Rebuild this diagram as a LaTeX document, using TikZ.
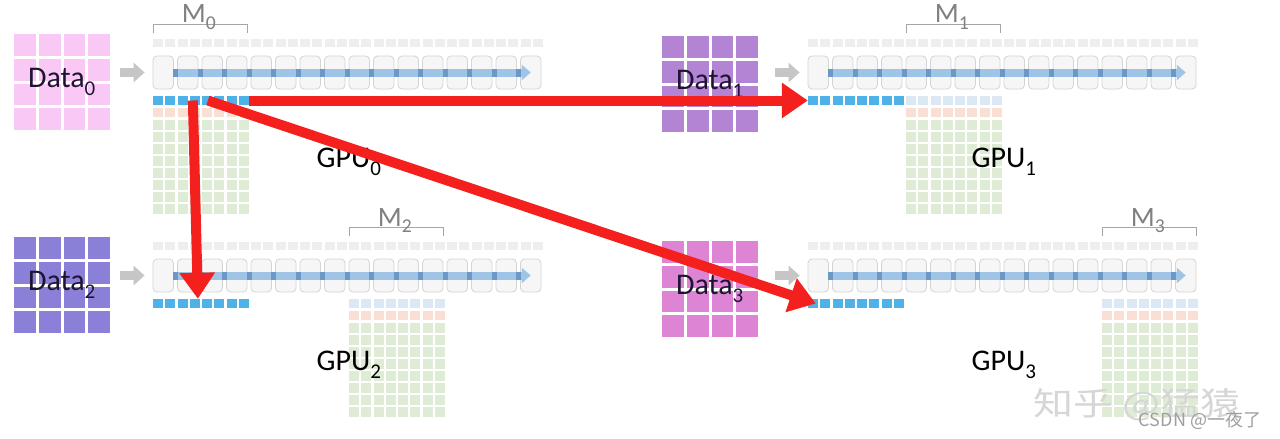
\documentclass[tikz,border=0pt]{standalone}
\usepackage{fontspec}
\setmainfont{Carlito}
\newfontfamily\cjkfont{Noto Sans CJK SC}
\usepackage{tikz}
\usetikzlibrary{arrows.meta, positioning, calc}
\definecolor{pinkdata}{RGB}{250,200,244}
\definecolor{violetdata}{RGB}{180,132,212}
\definecolor{slatedata}{RGB}{138,128,216}
\definecolor{magentadata}{RGB}{222,132,212}
\definecolor{layerfill}{RGB}{246,246,246}
\definecolor{layerdraw}{RGB}{212,212,212}
\definecolor{stripgray}{RGB}{238,238,238}
\definecolor{flowblue}{RGB}{160,196,230}
\definecolor{flowdark}{RGB}{108,152,200}
\definecolor{hotblue}{RGB}{78,178,232}
\definecolor{paleblue}{RGB}{220,232,244}
\definecolor{salmon}{RGB}{250,224,212}
\definecolor{paramgreen}{RGB}{222,236,214}
\definecolor{bcastred}{RGB}{244,32,30}
\definecolor{textdark}{RGB}{30,20,50}

\newcommand{\lowsub}[1]{\raisebox{-0.2ex}{\textsubscript{#1}}}

% one GPU: #1 index, #2 origin, #3 first column of M, #4 data colour, #5 data position, #6 feed gap
\newcommand{\gpupanel}[6]{%
  \begin{scope}[shift={#2}]
    % data block
    \node[datablock=#4] (data#1) at #5 {};
    \foreach \t in {1,2,3} {
      \draw[white, line width=3pt] ($(data#1.north west)!\t/4!(data#1.north east)$) -- ($(data#1.south west)!\t/4!(data#1.south east)$);
      \draw[white, line width=3pt] ($(data#1.north west)!\t/4!(data#1.south west)$) -- ($(data#1.north east)!\t/4!(data#1.south east)$);
    }
    \node[datalabel] (dl#1) at (data#1) {Data\lowsub{#1}};
    % strip of small squares
    \foreach \j in {0,...,31}
      \fill[stripgray] (12.25*\j,-17) rectangle ++(10,8);
    % layers
    \foreach \i in {0,...,15}
      \node[layer] (l#1-\i) at (24.5*\i+10.25,16.5) {};
    \draw[feed, shorten <=#6] (data#1.east |- l#1-0.west) -- (l#1-0.west);
    \draw[flow] (l#1-0.east) -- (l#1-15.center);
    \foreach \i in {1,...,15}
      \fill[flowdark] (24.5*\i-4.5,13) rectangle ++(5,8);
    % gathered row
    \node[rowbox] (hot#1) at (47.875,44.5) {};
    \foreach \j in {0,...,7}
      \fill[hotblue] (12.25*\j,40) rectangle ++(10,9);
    % own partition M
    \ifnum#1>0
      \foreach \j in {0,...,7}
        \fill[paleblue] (12.25*#3+12.25*\j,40) rectangle ++(10,9);
    \fi
    \foreach \j in {0,...,7}
      \fill[salmon] (12.25*#3+12.25*\j,52) rectangle ++(10,9);
    \foreach \r in {0,...,7}
      \foreach \j in {0,...,7}
        \fill[paramgreen] (12.25*#3+12.25*\j,64+12*\r) rectangle ++(10,10);
    \draw[brace] (12.25*#3,-23) -- ++(0,-9) -- ++(94.75,0) -- ++(0,9);
    \node[mlabel] (m#1) at (12.25*#3+46,-33) {M\lowsub{#1}};
    \node[gpulabel] (g#1) at (196,106) {GPU\lowsub{#1}};
  \end{scope}}

\begin{document}
\begin{tikzpicture}[x=1pt, y=-1pt,
  layer/.style={rectangle, rounded corners=4pt, draw=layerdraw, fill=layerfill,
                line width=0.8pt, minimum width=20.5pt, minimum height=33pt, inner sep=0pt},
  flow/.style={-{Triangle[length=9pt,width=15pt]}, line width=8pt, flowblue},
  feed/.style={-{Triangle[length=11pt,width=19pt]}, line width=9pt, gray!45, shorten >=8pt},
  datablock/.style={rectangle, fill=#1, minimum size=96pt, inner sep=0pt},
  rowbox/.style={rectangle, minimum width=95.75pt, minimum height=9pt, inner sep=0pt},
  brace/.style={draw=gray!70, line width=1pt},
  mlabel/.style={font=\fontsize{28}{32}\selectfont, text=gray, anchor=base, inner sep=0pt},
  datalabel/.style={font=\fontsize{30}{34}\selectfont, text=textdark},
  gpulabel/.style={font=\fontsize{30}{34}\selectfont, text=black},
  bcast/.style={-{Triangle[length=26pt,width=34pt]}, line width=10pt, bcastred},
  wmark/.style={font=\cjkfont\fontsize{32}{36}\selectfont, text=gray!32, xscale=1.25, transform shape},
]
  \fill[white] (0,0) rectangle (1280,439);
  \useasboundingbox (0,0) rectangle (1280,439);

  % GPUs
  \gpupanel{0}{(153,56)}{0}{pinkdata}{(-91,26)}{10pt}
  \gpupanel{1}{(808,56)}{8}{violetdata}{(-98,28)}{17pt}
  \gpupanel{2}{(153,259)}{16}{slatedata}{(-91,26)}{10pt}
  \gpupanel{3}{(808,259)}{24}{magentadata}{(-98,30)}{17pt}

  % broadcast of M0
  \draw[bcast] (hot0.east) -- (hot1.west);
  \draw[bcast] ([xshift=-8pt]hot0.center) -- ([xshift=-3pt]hot2.north);
  \draw[bcast] ([xshift=7pt]hot0.center) -- ([xshift=8pt]hot3.west);

  % watermarks
  \node[wmark] (zhihu) at (1137,405) {知乎 @猛猿};
  \node[font=\cjkfont\fontsize{18}{20}\selectfont, text=gray!75] (csdn) at (1200,420) {CSDN @一夜了};
\end{tikzpicture}
\end{document}
